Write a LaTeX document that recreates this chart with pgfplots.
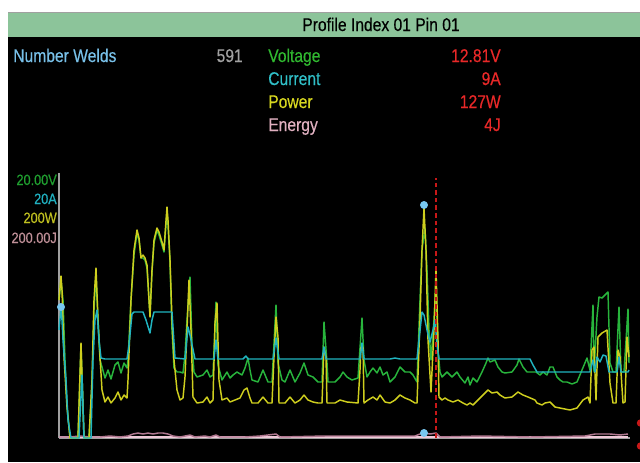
\documentclass[border=0pt]{standalone}
\usepackage{fontspec}
\setmainfont[FakeStretch=0.85,FakeBold=0.4]{Liberation Sans}
\usepackage{pgfplots}
\pgfplotsset{compat=1.18}
\definecolor{volt}{RGB}{40,180,60}
\definecolor{curr}{RGB}{32,180,192}
\definecolor{powr}{RGB}{206,206,30}
\definecolor{enrg}{RGB}{176,120,144}
\definecolor{enrglight}{RGB}{240,200,216}
\definecolor{dotblue}{RGB}{120,200,240}
\definecolor{redval}{RGB}{232,40,40}
\definecolor{cursor}{RGB}{200,24,24}
\definecolor{hdr}{RGB}{140,196,154}
\definecolor{axgray}{RGB}{160,160,160}
\definecolor{tweld}{RGB}{120,192,232}
\definecolor{tnum}{RGB}{160,160,160}
\definecolor{tvolt}{RGB}{48,184,48}
\definecolor{tcurr}{RGB}{48,192,200}
\definecolor{tpowr}{RGB}{216,216,32}
\definecolor{tenrg}{RGB}{224,176,192}
\definecolor{lvolt}{RGB}{32,160,48}
\definecolor{lcurr}{RGB}{32,176,192}
\definecolor{lpowr}{RGB}{192,192,32}
\definecolor{lenrg}{RGB}{192,144,152}
\begin{document}
\begin{tikzpicture}
\useasboundingbox (0,0) rectangle (480pt,-346.5pt);
\begin{scope}[x=0.75pt,y=-0.75pt]
\fill[white] (0,0) rectangle (640,462);
\fill[black] (8,37) rectangle (640,462);
\fill[hdr] (8,13) rectangle (640,37);
\draw[axgray, line width=0.8pt] (8,12.3) -- (640,12.3);
\tikzset{big/.style={inner sep=0pt, font=\fontsize{13.8}{16}\selectfont},
         small/.style={inner sep=0pt, anchor=base east, font=\fontsize{11.2}{13}\selectfont}}
\node[big, anchor=base, text=black] at (381,31) {Profile Index 01 Pin 01};
\node[big, anchor=base west, text=tweld] at (13,62) {Number Welds};
\node[big, anchor=base east, text=tnum] at (243,62) {591};
\node[big, anchor=base west, text=tvolt] at (268,62) {Voltage};
\node[big, anchor=base west, text=tcurr] at (268,85) {Current};
\node[big, anchor=base west, text=tpowr] at (268,108) {Power};
\node[big, anchor=base west, text=tenrg] at (268,131) {Energy};
\node[big, anchor=base east, text=redval] at (501,62) {12.81V};
\node[big, anchor=base east, text=redval] at (501,85) {9A};
\node[big, anchor=base east, text=redval] at (501,108) {127W};
\node[big, anchor=base east, text=redval] at (501,131) {4J};
\node[small, text=lvolt] at (57,185) {20.00V};
\node[small, text=lcurr] at (57,204) {20A};
\node[small, text=lpowr] at (57,223) {200W};
\node[small, text=lenrg] at (57,243) {200.00J};
\end{scope}
\begin{axis}[at={(44.25pt,-328.5pt)}, anchor=south west, scale only axis,
  width=428.25pt, height=198.75pt,
  xmin=59, xmax=630, ymin=0, ymax=265,
  axis lines=left, axis line style={-, draw=axgray, line width=1.1pt},
  xtick=\empty, ytick=\empty, clip=false,
  every axis plot/.append style={line width=1.1pt, line join=round, mark=none}]
% energy baseline (light)
\addplot[enrglight] coordinates {(59,0.8) (628,0.8)};
% energy (mauve)
\addplot[enrg] coordinates {(59,1) (70,1) (80,2) (90,1) (100,1) (110,2) (120,1) (128,2) (133,4) (138,5) (143,4) (148,5) (153,4) (158,5) (163,5) (168,4) (173,2) (180,1) (190,3) (195,1) (205,2) (210,1) (216,3) (220,1) (245,1) (260,2) (276,4) (280,1) (325,2) (362,2) (415,2) (420,4) (425,5) (430,4) (436,5) (440,1) (480,2) (530,1) (585,2) (595,4) (610,4) (620,3) (628,4)};
% voltage
\addplot[volt] coordinates {(59,138) (61,158) (63,138) (65,78) (67,33) (70,0) (78,0) (81,93) (84,0) (89,0) (92,53) (94,128) (96,163) (98,118) (100,78) (102,71) (105,60) (108,68) (111,59) (115,73) (118,76) (121,65) (124,75) (127,70) (128,78) (131,138) (134,183) (137,205) (139,198) (141,180) (143,180) (145,178) (147,170) (149,138) (150,123) (152,166) (154,195) (157,208) (159,203) (162,193) (164,186) (165,200) (167,226) (168,213) (170,176) (172,108) (174,70) (177,66) (180,66) (183,65) (185,83) (187,118) (190,161) (192,93) (194,66) (197,61) (203,63) (207,68) (210,61) (213,63) (216,136) (218,73) (222,58) (227,66) (230,60) (233,63) (237,66) (242,63) (245,70) (248,80) (250,68) (252,58) (258,56) (263,68) (268,56) (272,56) (276,133) (278,75) (282,58) (285,56) (290,68) (295,56) (300,65) (304,75) (308,63) (313,61) (318,56) (322,56) (324,116) (327,75) (328,56) (335,56) (340,61) (343,66) (347,61) (352,58) (358,60) (362,120) (364,78) (367,61) (370,66) (373,70) (377,65) (380,71) (383,63) (387,66) (390,56) (395,61) (400,71) (405,66) (410,66) (413,63) (417,56) (420,138) (422,188) (425,210) (427,168) (429,108) (431,78) (434,118) (436,153) (438,88) (440,66) (442,61) (447,66) (452,61) (457,66) (460,61) (465,55) (468,61) (470,53) (473,60) (477,56) (482,66) (486,75) (488,80) (490,76) (495,78) (498,71) (502,66) (505,65) (512,66) (517,73) (519,79) (523,71) (527,66) (532,66) (536,66) (540,63) (543,66) (547,63) (550,71) (553,71) (557,61) (560,58) (563,56) (567,56) (572,54) (577,56) (582,68) (587,80) (590,68) (593,133) (594,66) (597,121) (599,141) (602,140) (605,143) (608,146) (610,75) (613,66) (616,66) (619,131) (621,66) (624,66) (628,129) (629,75)};
% power
\addplot[powr] coordinates {(59,138) (61,162) (62,148) (64,81) (67,31) (70,0) (78,0) (81,95) (84,0) (89,0) (92,58) (94,138) (96,170) (98,118) (100,81) (102,48) (105,36) (108,41) (111,35) (115,40) (118,46) (121,38) (124,43) (127,40) (128,58) (131,138) (134,188) (137,208) (139,200) (141,180) (143,183) (145,180) (147,173) (149,138) (150,121) (152,168) (154,198) (157,210) (159,206) (162,196) (164,188) (165,203) (167,231) (168,218) (170,178) (172,118) (174,78) (177,48) (180,38) (183,40) (185,61) (187,108) (189,158) (191,108) (193,41) (197,35) (203,36) (207,41) (210,35) (213,38) (215,115) (217,135) (219,58) (222,38) (227,40) (230,36) (235,38) (240,40) (244,48) (247,50) (250,40) (252,35) (258,35) (263,41) (268,35) (272,35) (274,81) (276,121) (278,101) (279,35) (285,35) (290,41) (295,35) (300,38) (304,43) (308,38) (313,36) (318,35) (322,35) (324,91) (326,81) (327,35) (335,35) (340,38) (347,36) (358,35) (360,68) (361,91) (363,91) (364,35) (368,38) (373,41) (377,38) (380,43) (385,36) (390,35) (395,38) (400,43) (405,40) (410,38) (415,35) (417,35) (420,118) (422,188) (424,230) (426,188) (428,98) (431,46) (434,108) (436,168) (438,98) (439,41) (442,38) (445,40) (448,38) (453,36) (458,38) (463,35) (467,33) (470,35) (473,33) (478,38) (485,45) (488,48) (492,45) (497,46) (500,43) (505,40) (512,41) (518,46) (523,43) (528,41) (535,38) (537,35) (542,33) (545,35) (550,36) (555,31) (560,30) (565,29) (570,28) (577,30) (583,38) (588,41) (590,35) (592,88) (594,91) (596,38) (598,101) (602,105) (607,108) (610,55) (613,35) (616,35) (618,88) (620,81) (623,35) (625,36) (627,101) (629,81)};
% current
\addplot[curr] coordinates {(59,108) (61,131) (62,118) (63,98) (66,58) (68,18) (71,0) (79,0) (82,63) (84,0) (91,0) (93,78) (95,118) (97,128) (99,98) (101,80) (105,79) (127,79) (129,93) (132,124) (134,126) (143,126) (146,118) (150,105) (152,118) (154,126) (172,126) (175,80) (185,79) (188,111) (190,103) (195,79) (214,79) (216,98) (218,79) (243,79) (246,82) (248,79) (273,79) (276,100) (279,79) (322,79) (324,91) (326,79) (360,79) (362,95) (364,79) (390,79) (395,80) (400,79) (417,79) (419,98) (422,126) (424,123) (427,108) (430,96) (433,108) (435,118) (437,93) (439,79) (530,79) (533,73) (537,66) (590,66) (593,78) (595,66) (597,81) (600,76) (603,83) (606,82) (609,66) (617,66) (619,81) (621,66) (628,66) (629,68)};
% cursor
\addplot[cursor, line width=1.4pt, dash pattern=on 3.4pt off 2.3pt] coordinates {(436,0) (436,260)};
% markers
\addplot[only marks, mark=*, mark size=2.4pt, mark options={draw=dotblue, fill=dotblue}] coordinates {(61,131) (424,233) (424,5)};
\addplot[only marks, mark=*, mark size=2.2pt, mark options={draw=cursor, fill=cursor}] coordinates {(640.5,15) (640.5,-8)};
\end{axis}
\end{tikzpicture}
\end{document}
